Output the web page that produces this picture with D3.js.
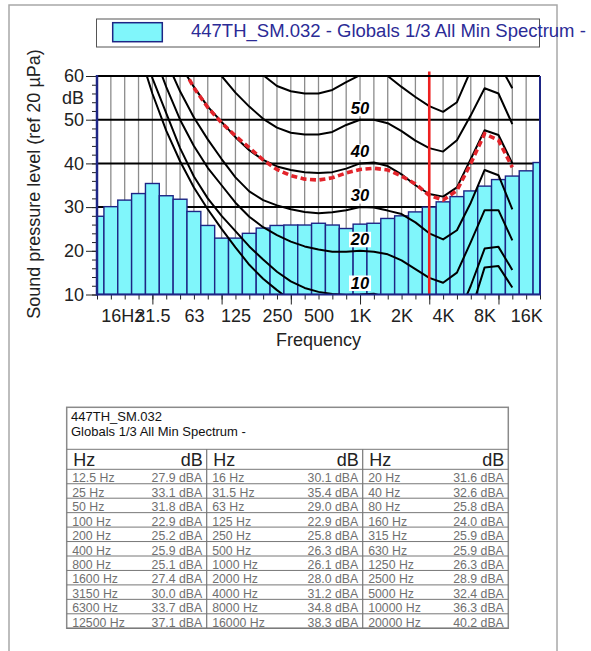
<!DOCTYPE html>
<html>
<head>
<meta charset="utf-8">
<script src="https://cdn.jsdelivr.net/npm/d3@7"></script>
<style>
  html, body { margin: 0; padding: 0; background: #fff; }
  svg { display: block; font-family: Arial, "Liberation Sans", sans-serif; }
</style>
</head>
<body>
<svg id="chart" width="591" height="651"></svg>
<script>
// 1/3-octave band centres (Hz) and the minimum spectrum levels (dBA)
const bands = ["12.5","16","20","25","31.5","40","50","63","80","100","125","160","200","250","315","400","500","630","800","1000","1250","1600","2000","2500","3150","4000","5000","6300","8000","10000","12500","16000","20000"];
const levels = [27.9,30.1,31.6,33.1,35.4,32.6,31.8,29.0,25.8,22.9,22.9,24.0,25.2,25.8,25.9,25.9,26.3,25.9,25.1,26.1,26.3,27.4,28.0,28.9,30.0,31.2,32.4,33.7,34.8,36.3,37.1,38.3,40.2];

// axis ticks
const octaveTicks = [1,4,7,10,13,16,19,22,25,28,31];
const octaveLabels = ["16Hz","31.5","63","125","250","500","1K","2K","4K","8K","16K"];
const majorTicks = [4,9,14,19,24,29];
const yTicks = [10,20,30,40,50,60];
const yUnit = "dB";

// equal-loudness contours, 20 Hz (band 2) .. 12.5 kHz (band 30)
const contourStart = 2;
const contourThreshold = [80,66,56,47.5,40.5,34.5,29.5,25,20.8,16.8,13.6,11,8.6,6.2,4.4,3.0,2.2,2.4,3.5,1.7,-1.3,-4.2,-6.0,-5.4,-1.5,6.0,16.2,16.5,11.6];
const contour10 = [88,71,59.5,51.5,43.5,37,32,28,24.5,21,18,15.2,13,11.5,10.6,10.1,9.9,10,10.2,9.2,6.8,4.2,2.6,2.6,4.6,12,20.5,20.9,15.6];
const contour20 = [95,77,66,57.5,50,44,39,35,31,27.8,25.4,23.6,22.1,21,20.3,19.8,19.8,20,19.8,19.2,17.8,15.8,13.8,12.7,15,22,29.3,29.3,22.4];
const contour30 = [101,85,73,63.5,56.5,50.5,45.5,41,36.8,33.6,31.6,30.4,29.5,28.9,28.6,28.8,29.3,30,29.9,29.2,28.4,26.5,24,22.6,24.7,31,38.5,37.3,29.5];
const contour40 = [107,92,80,70,62.5,57.5,53,49.5,46,43,40.8,39.3,38.5,38,37.8,38,38.8,40,40.2,39.4,37.5,35,33,32.4,34.5,41,47.6,46.5,40];
const contour50 = [112,98,88,80,73,68,64,60,56.2,53,50.2,48.2,47,46.6,46.6,47.2,48.8,50,50,49.2,47.4,45.2,43.5,42.7,45.3,51,57.2,56,49];
const contour60 = [118,104,94,87,81,76,72,68.5,65.5,62.8,60.2,57.7,56.5,56,56,56.8,58.6,60.2,61,60,57.5,55.2,53.1,51.8,54,61.3,67,63,57.2];
const contourLabels = [50,40,30,20,10];

// loudness curve fitted to the spectrum, 50 Hz (band 6) .. 12.5 kHz
const fitStart = 6;
const fitCurve = [63,57.3,52.8,49.3,46.3,43.6,40.8,38.6,37.2,36.4,36.2,36.7,37.8,38.6,38.9,38.5,37.1,35.3,32.7,31.6,33.8,40,46.8,45.3,39.1];
const markerBand = 24; // 3150 Hz

const legendText = "447TH_SM.032 - Globals 1/3 All Min Spectrum -";
const tableTitle = ["447TH_SM.032", "Globals 1/3 All Min Spectrum -"];

const svg = d3.select("#chart");
const navy = "#1d2585";
const cyan = "#80f6fb";

// page frame
svg.append("rect").attr("x", 9).attr("y", 5).attr("width", 548).attr("height", 700)
  .attr("fill", "none").attr("stroke", "#a8a8a8").attr("stroke-width", 1.5);

// scales
const x = d3.scaleLinear().domain([0, bands.length - 1]).range([97, 540]);
const y = d3.scaleLinear().domain([10, 60]).range([294.5, 76]);
const [pl, pr] = x.range();
const [pb, pt] = y.range();

svg.append("defs").append("clipPath").attr("id", "plotClip")
  .append("rect").attr("x", pl).attr("y", pt).attr("width", pr - pl).attr("height", pb - pt);

// legend
const lg = svg.append("g");
lg.append("rect").attr("x", 96.5).attr("y", 19).attr("width", 443).attr("height", 28)
  .attr("fill", "#fff").attr("stroke", "#555").attr("stroke-width", 1);
lg.append("rect").attr("x", 112.7).attr("y", 22.7).attr("width", 49.6).attr("height", 19)
  .attr("fill", cyan).attr("stroke", navy).attr("stroke-width", 1.5);
lg.append("text").attr("x", 191).attr("y", 36.5).attr("font-size", 18.5)
  .attr("fill", "#2b2b96").text(legendText);

// plot background and grid
const plot = svg.append("g");
plot.append("rect").attr("x", pl).attr("y", pt).attr("width", pr - pl).attr("height", pb - pt).attr("fill", "#fff");
plot.append("g").selectAll("line").data(d3.range(bands.length)).join("line")
  .attr("x1", d => x(d)).attr("x2", d => x(d)).attr("y1", pt).attr("y2", pb)
  .attr("stroke", "#8c8c8c").attr("stroke-width", 1.3);
plot.append("g").selectAll("line").data([20, 30, 40, 50]).join("line")
  .attr("x1", pl).attr("x2", pr).attr("y1", d => y(d)).attr("y2", d => y(d))
  .attr("stroke", "#000").attr("stroke-width", 2);

// spectrum bars
const inner = plot.append("g").attr("clip-path", "url(#plotClip)");
inner.append("g").selectAll("rect").data(levels).join("rect")
  .attr("x", (d, i) => x(i - 0.5)).attr("width", (d, i) => x(i + 0.5) - x(i - 0.5))
  .attr("y", d => y(d)).attr("height", d => y(10) - y(d))
  .attr("fill", cyan).attr("stroke", navy).attr("stroke-width", 1.4);

// contours
const contours = [contourThreshold, contour10, contour20, contour30, contour40, contour50, contour60];
const cLine = d3.line().x((d, i) => x(contourStart + i)).y(d => y(d));
inner.append("g").selectAll("path").data(contours).join("path")
  .attr("d", cLine).attr("fill", "none").attr("stroke", "#000").attr("stroke-width", 2)
  .attr("stroke-linejoin", "round");

// fitted loudness curve
const fLine = d3.line().x((d, i) => x(fitStart + i)).y(d => y(d));
inner.append("path").attr("d", fLine(fitCurve)).attr("fill", "none")
  .attr("stroke", "#e3242b").attr("stroke-width", 3.6).attr("stroke-dasharray", "6,3.5");

// contour labels at 1 kHz
const lab = plot.append("g");
const lx = x(bands.indexOf("1000"));
contourLabels.forEach(v => {
  const by = y(v) - 6;
  lab.append("rect").attr("x", lx - 11).attr("y", by - 13).attr("width", 22).attr("height", 15.5).attr("fill", "#fff");
  lab.append("text").attr("x", lx).attr("y", by).attr("text-anchor", "middle")
    .attr("font-size", 16.5).attr("font-weight", "bold").attr("font-style", "italic").attr("fill", "#000").text(v);
});

// marker line
plot.append("line").attr("x1", x(markerBand)).attr("x2", x(markerBand)).attr("y1", 71.5).attr("y2", pb)
  .attr("stroke", "#ee2020").attr("stroke-width", 2.6);

// plot frame
plot.append("line").attr("x1", pl).attr("x2", pr).attr("y1", pt).attr("y2", pt).attr("stroke", "#000").attr("stroke-width", 2);
plot.append("line").attr("x1", pr).attr("x2", pr).attr("y1", pt).attr("y2", pb).attr("stroke", navy).attr("stroke-width", 2);

// y axis
const yMinor = d3.axisLeft(y).tickValues(d3.range(10, 61, 2)).tickSize(5).tickFormat("");
const yMajor = d3.axisLeft(y).tickValues(yTicks).tickSize(11).tickPadding(2).tickFormat(d => d);
const gyMinor = svg.append("g").attr("transform", `translate(${pl},0)`).call(yMinor);
const gy = svg.append("g").attr("transform", `translate(${pl},0)`).call(yMajor);
[gyMinor, gy].forEach(g => {
  g.select(".domain").remove();
  g.selectAll(".tick line").attr("stroke", "#222").attr("stroke-width", 1);
});
gy.selectAll(".tick text").attr("font-size", 18).attr("fill", "#222").attr("font-family", null);
gy.append("text").attr("x", -13).attr("y", y(55)).attr("dy", "0.35em").attr("text-anchor", "end")
  .attr("font-size", 18).attr("fill", "#222").text(yUnit);

// x axis
const xMinor = d3.axisBottom(x).tickValues(d3.range(bands.length)).tickSize(5).tickFormat("");
const xMajor = d3.axisBottom(x).tickValues(majorTicks).tickSize(10).tickFormat("");
const xLab = d3.axisBottom(x).tickValues(octaveTicks).tickSize(0).tickPadding(15)
  .tickFormat((d, i) => octaveLabels[i]);
[xMinor, xMajor].forEach(a => {
  const g = svg.append("g").attr("transform", `translate(0,${pb})`).call(a);
  g.select(".domain").remove();
  g.selectAll(".tick line").attr("stroke", "#222").attr("stroke-width", 1);
});
const gx = svg.append("g").attr("transform", `translate(0,${pb})`).call(xLab);
gx.select(".domain").remove();
gx.selectAll(".tick text").attr("font-size", 18).attr("fill", "#222").attr("font-family", null);
gx.selectAll(".tick text").filter((d, i) => i === 0).attr("text-anchor", "start").attr("x", -10);

// axis spines
svg.append("line").attr("x1", pl).attr("x2", pl).attr("y1", pt - 1).attr("y2", pb + 1).attr("stroke", navy).attr("stroke-width", 2.5);
svg.append("line").attr("x1", pl).attr("x2", pr + 1).attr("y1", pb).attr("y2", pb).attr("stroke", navy).attr("stroke-width", 2);

// axis titles
svg.append("text").attr("transform", "translate(40,184) rotate(-90)").attr("text-anchor", "middle")
  .attr("font-size", 18).attr("fill", "#222").text("Sound pressure level (ref 20 µPa)");
svg.append("text").attr("x", 318.5).attr("y", 345.5).attr("text-anchor", "middle")
  .attr("font-size", 18).attr("fill", "#222").text("Frequency");

// data table
const colX = [66.7, 206.7, 362.7, 508.3];
const tTop = 407.3, tHead = 449.3, tRows = 469.3, rowH = 14.45;
const nRows = Math.ceil(bands.length / 3);
const tBottom = tRows + nRows * rowH;
const tb = svg.append("g");
tb.append("rect").attr("x", colX[0]).attr("y", tTop).attr("width", colX[3] - colX[0]).attr("height", tBottom - tTop)
  .attr("fill", "#fff").attr("stroke", "#8a8a8a").attr("stroke-width", 1.5);
tableTitle.forEach((t, i) => tb.append("text").attr("x", 71).attr("y", 420.5 + i * 15)
  .attr("font-size", 13).attr("fill", "#111").text(t));
tb.append("g").selectAll("line").data(d3.range(nRows + 2)).join("line")
  .attr("x1", colX[0]).attr("x2", colX[3])
  .attr("y1", d => d === 0 ? tHead : tRows + (d - 1) * rowH)
  .attr("y2", d => d === 0 ? tHead : tRows + (d - 1) * rowH)
  .attr("stroke", "#777").attr("stroke-width", 1);
tb.append("g").selectAll("line").data([1, 2]).join("line")
  .attr("x1", d => colX[d]).attr("x2", d => colX[d]).attr("y1", tHead).attr("y2", tBottom)
  .attr("stroke", "#777").attr("stroke-width", 1.2);
[0, 1, 2].forEach(c => {
  tb.append("text").attr("x", colX[c] + 6.5).attr("y", tHead + 16.5).attr("font-size", 18).attr("fill", "#222").text("Hz");
  tb.append("text").attr("x", colX[c + 1] - 4).attr("y", tHead + 16.5).attr("text-anchor", "end")
    .attr("font-size", 18).attr("fill", "#222").text("dB");
});
const cells = bands.map((b, i) => ({ b, v: levels[i], r: Math.floor(i / 3), c: i % 3 }));
tb.append("g").selectAll("text").data(cells).join("text")
  .attr("x", d => colX[d.c] + 5.5).attr("y", d => tRows + (d.r + 1) * rowH - 1.5)
  .attr("font-size", 12.3).attr("fill", "#707070").text(d => `${d.b} Hz`);
tb.append("g").selectAll("text").data(cells).join("text")
  .attr("x", d => colX[d.c + 1] - 4.5).attr("y", d => tRows + (d.r + 1) * rowH - 1.5)
  .attr("text-anchor", "end").attr("font-size", 12.3).attr("fill", "#707070")
  .text(d => `${d.v.toFixed(1)} dBA`);
</script>
</body>
</html>
